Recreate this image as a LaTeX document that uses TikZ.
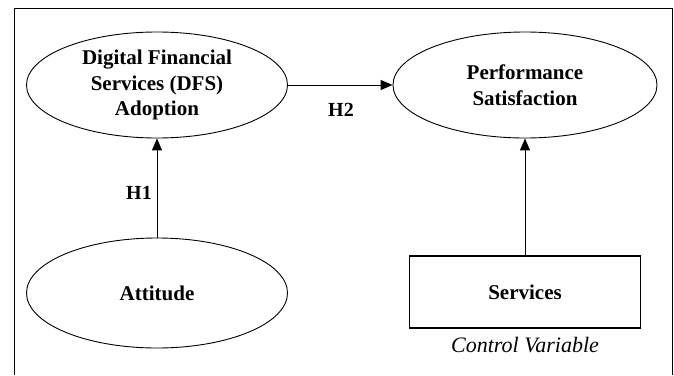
\documentclass[tikz,border=0pt]{standalone}
\usepackage{fontspec}
\setmainfont{Liberation Serif}
\usetikzlibrary{shapes.geometric,arrows.meta}

\tikzset{
  construct/.style={ellipse, draw, line width=0.9pt, inner sep=0pt,
    align=center, font=\fontsize{21}{25.5}\selectfont\bfseries},
  controlbox/.style={rectangle, draw, line width=1.3pt, inner sep=0pt,
    font=\fontsize{21}{25}\selectfont\bfseries},
  path/.style={line width=1pt, -{Triangle[length=12pt,width=10pt]}},
  hyp/.style={font=\fontsize{20}{23}\selectfont\bfseries}
}

\begin{document}
\begin{tikzpicture}[x=1pt, y=-1pt]

  \useasboundingbox (0,0) rectangle (674,375);

  % Frame (open at the bottom)
  \draw[line width=0.9pt] (14,375) -- (14,8) -- (672,8) -- (672,375);

  % Constructs
  \node[construct, minimum width=261pt, minimum height=106pt] (dfs) at (157,85)
    {Digital Financial\\Services (DFS)\\Adoption};
  \node[construct, minimum width=264pt, minimum height=106pt] (perf) at (525,85)
    {Performance\\Satisfaction};
  \node[construct, minimum width=261pt, minimum height=110pt] (att) at (157,293)
    {Attitude};

  % Control variable
  \node[controlbox, minimum width=231pt, minimum height=72pt] (serv) at (525,292)
    {Services};
  \node[font=\fontsize{22}{25}\selectfont\itshape] (ctrl) at (525,345)
    {Control Variable};

  % Hypotheses
  \draw[path] (att) -- (dfs);
  \draw[path] (dfs) -- (perf);
  \draw[path] (serv) -- (perf);

  \node[hyp] (h1) at (139,193) {H1};
  \node[hyp] (h2) at (341,110) {H2};

\end{tikzpicture}
\end{document}
